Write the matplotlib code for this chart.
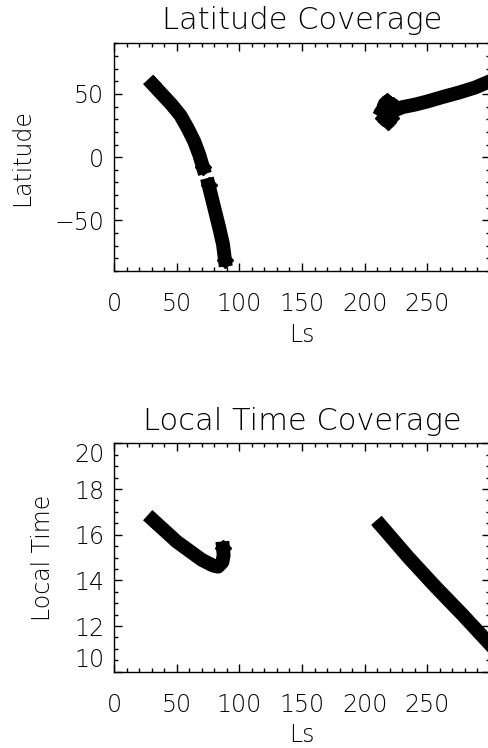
import matplotlib.pyplot as plt
from matplotlib.ticker import MultipleLocator

plt.rcParams['font.family'] = ['DejaVu Sans']
plt.rcParams['font.weight'] = 200
plt.rcParams['axes.titleweight'] = 200
plt.rcParams['axes.labelweight'] = 200

# latitude coverage
lat_ls_a = [31, 39, 46, 53, 59, 64, 68, 71]
lat_a = [57.5, 49, 41.5, 33, 22.5, 12.5, 2, -8]
lat_ls_b = [75.5, 78, 81, 84, 87, 88.5]
lat_b = [-22, -32, -44, -56, -69, -81]
lat_ls_c = [214, 218, 221, 223, 215, 219, 216, 224, 230, 240, 250, 262, 275, 288, 300]
lat_c = [37, 44, 31, 41, 31, 28, 42, 37, 39.5, 41.5, 44, 47.5, 51, 55, 60]

# local time coverage
lt_ls_d = [31, 40, 50, 60, 70, 79, 83, 86.5, 87.5, 87]
lt_d = [16.65, 16.2, 15.7, 15.3, 14.9, 14.65, 14.6, 14.8, 15.1, 15.4]
lt_ls_e = [213, 235, 256, 278, 300]
lt_e = [16.4, 15.0, 13.75, 12.5, 11.2]

fig = plt.figure(figsize=(4.89, 7.48), dpi=100)
ax1 = fig.add_axes([0.2331, 0.6377, 0.7689, 0.3044])
ax2 = fig.add_axes([0.2331, 0.1020, 0.7689, 0.3053])

sty = dict(color='k', lw=10, marker='D', ms=8.5, solid_joinstyle='round')
ax1.plot(lat_ls_a, lat_a, markevery=[0, -1], **sty)
ax1.plot(lat_ls_b, lat_b, markevery=[0, -1], **sty)
ax1.plot(lat_ls_c, lat_c, markevery=[0, 1, 2, 3, 4, 5, 6], **sty)
ax2.plot(lt_ls_d, lt_d, markevery=[0, -1], **sty)
ax2.plot(lt_ls_e, lt_e, markevery=[0], **sty)

for ax in (ax1, ax2):
    ax.set_xlim(0, 300)
    ax.set_xticks([0, 50, 100, 150, 200, 250])
    ax.xaxis.set_minor_locator(MultipleLocator(10))
    ax.tick_params(which='both', direction='in', top=True, right=True, width=1, labelsize=17)
    ax.tick_params(which='major', length=6)
    ax.tick_params(which='minor', length=3)
    ax.tick_params(axis='x', pad=15)
    ax.tick_params(axis='y', pad=7)
    for s in ax.spines.values():
        s.set_linewidth(1)

ax1.set_ylim(-90, 90)
ax1.yaxis.set_major_locator(MultipleLocator(50))
ax1.yaxis.set_minor_locator(MultipleLocator(10))
ax1.set_title('Latitude Coverage', fontsize=22, pad=10)
ax1.set_xlabel('Ls', fontsize=17)
ax1.set_ylabel('Latitude', fontsize=17)
ax1.xaxis.set_label_coords(0.5, -0.281)
ax1.yaxis.set_label_coords(-0.2455, 0.5)

ax2.set_ylim(10, 20)
ax2.set_yticks([10, 12, 14, 16, 18, 20])
ax2.yaxis.set_minor_locator(MultipleLocator(0.5))
ax2.set_title('Local Time Coverage', fontsize=22, pad=9.5)
ax2.set_xlabel('Ls', fontsize=17)
ax2.set_ylabel('Local Time', fontsize=17)
ax2.xaxis.set_label_coords(0.5, -0.276)
ax2.yaxis.set_label_coords(-0.189, 0.5)

for ax in (ax1, ax2):
    ax.xaxis.label.set_va('center')
    ax.yaxis.label.set_va('center')
    ax.yaxis.label.set_ha('center')

ylabs = ax2.get_yticklabels()
ylabs[0].set_va('bottom')
ylabs[-1].set_va('top')

fig.savefig('out.png', dpi=100)
